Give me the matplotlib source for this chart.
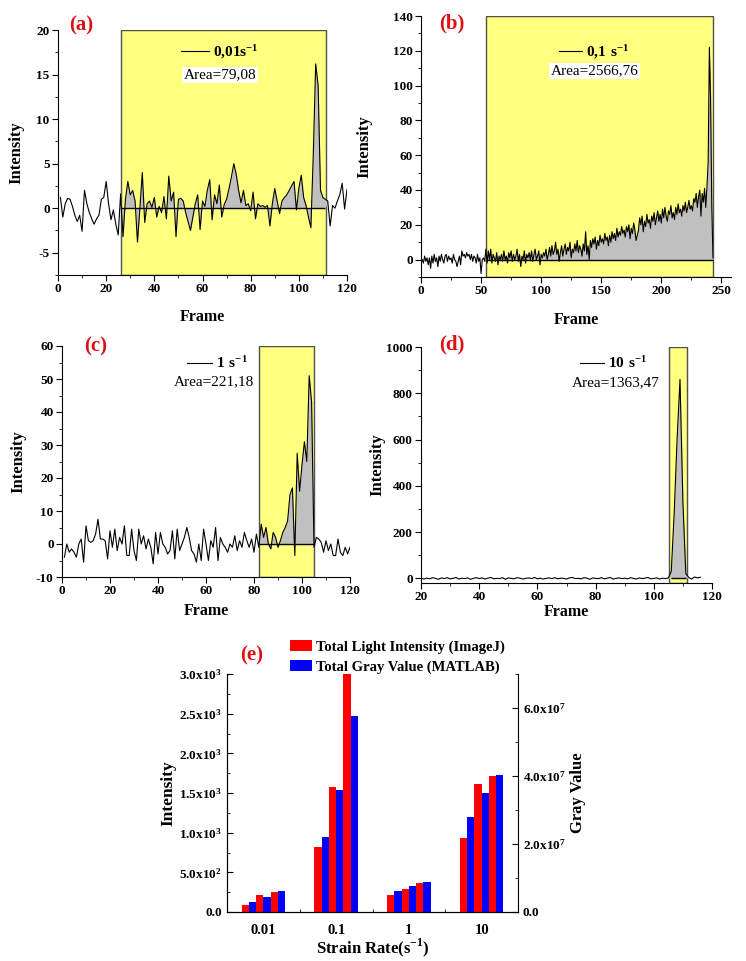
import numpy as np
import matplotlib
matplotlib.use('Agg')
import matplotlib.pyplot as plt
from matplotlib.ticker import MultipleLocator, FixedLocator, FuncFormatter

plt.rcParams['font.family'] = ['Liberation Serif', 'DejaVu Serif']
plt.rcParams['font.weight'] = 'bold'
plt.rcParams['mathtext.fontset'] = 'custom'
plt.rcParams['mathtext.rm'] = 'Liberation Serif'
plt.rcParams['mathtext.bf'] = 'Liberation Serif:bold'
plt.rcParams['axes.unicode_minus'] = False

# (a) 0,01 s-1, frames 1..120
a_vals = [1.2, -1.0, 0.5, 1.1, 1.0, 0.2, -0.8, -1.5, -0.8, -2.6,
          2.0, 0.5, -0.5, -1.2, -1.8, -1.2, -0.8, 1.0, 1.2, 3.0,
          0.5, -1.3, -0.2, -1.8, -3.0, 1.6, -3.2, 1.0, 3.0, 1.5,
          2.0, 0.8, -3.8, 0.0, 4.0, -1.6, 0.5, 0.8, 0.1, 1.2,
          -1.0, 0.2, -0.5, 1.3, -1.2, 3.6, 0.8, 1.8, -3.2, 1.0,
          1.1, 0.8, -0.5, -1.5, -2.5, -1.0, 0.5, 1.5, -2.4, 0.8,
          0.2, 2.0, 3.2, -1.3, 1.5, 0.5, 2.6, -1.0, 0.4, 1.0,
          2.2, 3.5, 5.0, 3.8, 2.0, 0.6, 2.0, 0.3, 0.5, -0.3,
          1.8, -1.2, 0.5, 0.2, 0.3, 0.1, 0.3, -2.0, 0.5, 2.2,
          0.8, -0.6, 0.8, 1.2, 1.5, 2.0, 2.5, 3.0, -0.2, 2.2,
          3.7, 1.2, 0.3, -1.0, -2.2, 6.0, 16.2, 13.8, 2.0, 1.2,
          1.0, 0.8, -2.0, 0.3, 0.0, 0.8, 1.5, 2.8, -0.1, 2.1]
a_span = (26, 111.2)

# (b) 0,1 s-1, frames 1..243
b_vals = [0, -2, 2, -1, 1, -3, 1, -5, 2, -2,
          3, -1, 1, -4, 2, -1, 3, 0, -2, 2,
          3, -1, 2, 0, 1, -2, 3, 0, -1, -4,
          -1, 2, -3, 5, 2, 3, 1, 4, 2, 3,
          0, 3, -1, 2, 1, -2, 3, -1, 1, -8,
          0, 1, -1, 6, -2, 5, 0, 6, -2, 3,
          1, -1, 4, -3, 2, 0, 3, -1, 5, 0,
          2, -2, 4, 1, 5, -1, 3, 0, 2, 6,
          -1, 3, -4, 2, 0, 5, -2, 3, 1, 4,
          0, 5, -1, 3, 6, 0, 2, 5, -3, 3,
          1, 4, 2, 6, 0, 3, 7, 2, 8, 3,
          5, 10, 3, 6, -1, 4, 8, 2, 6, 9,
          3, 7, 5, 10, 1, 6, 4, 9, 5, 11,
          4, 8, 6, 2, 9, 5, 16, 3, 8, 0,
          11, 7, 12, 9, 13, 6, 11, 8, 14, 10,
          12, 9, 15, 11, 13, 8, 14, 10, 16, 12,
          15, 11, 18, 13, 16, 14, 19, 15, 17, 13,
          19, 16, 20, 12, 18, 15, 21, 17, 11, 14,
          17, 24, 20, 25, 16, 22, 19, 26, 21, 23,
          18, 25, 22, 27, 20, 24, 28, 22, 26, 21,
          29, 24, 30, 25, 22, 28, 26, 31, 24, 27,
          23, 30, 26, 32, 27, 29, 25, 31, 28, 33,
          27, 30, 34, 29, 31, 28, 35, 33, 38, 30,
          36, 40, 25, 38, 33, 41, 30, 42, 56, 122,
          93, 31, 1]
b_span = (54, 243)

# (c) 1 s-1, frames 1..120
c_vals = [-4, 0, -2.5, -1.5, -2.5, -4, 0, 1.5, -5.5, 5.5,
          1, 0.5, 1, 3, 7.5, 1.5, 1.5, 1, -4.5, 4,
          -1, 4.5, -2, 2, 0, 5.5, -3.5, -3.5, 4.5, -2,
          -5, 4.5, 0, 2.5, -1.5, 1.5, -1, -6, 3.5, -3,
          3.5, 0, -1, -3, -2, 4, -4.5, 4.5, -2, 0,
          2, 5, 2, -2, -3, -5.5, 0, -5, 4.5, 0,
          -5, 1, -1, 5, -5, 2, 0, -1, -2.5, 0,
          -1, 2.5, -2, 1, -1, 3.5, 1, -1, 1.5, -2.5,
          3, -1, 6, 2, 5, 0, -1.5, 3.5, 2, -1,
          1, 3.5, 5, 7, 15, 17, -3.5, 27.5, 16, 24,
          31, 25, 51, 43, -1, 2, 1.5, 0.5, -2.5, 1,
          -2, 0, -3.5, -3.5, 1.5, -2.5, -3.5, -1, -3, -1]
c_span = (82, 105)

# (d) 10 s-1, frames 20..116
d_vals = [2, -3, 1, -2, 3, 0, -4, 2, -1, 3,
          -2, 0, 4, -3, 1, -1, 2, -4, 0, 3,
          -1, 2, -3, 1, 4, -2, 0, -1, 3, -4,
          2, 0, -2, 3, 1, -3, 0, 2, -1, 4,
          -2, 1, -3, 0, 2, -1, 3, -2, 1, 0,
          -3, 2, 4, -1, 0, -2, 3, 1, -4, 2,
          0, -1, 3, -2, 1, 4, -3, 0, 2, -1,
          1, -2, 3, 0, -3, 2, -1, 1, 4, -2,
          0, 2, -3, 1, -1, 2, 30, 280, 600, 860,
          330, 20, 4, -3, 6, 2, 5]
d_span = (105.3, 111.4)

# (e) totals per strain rate
rates = ['0.01', '0.1', '1', '10']
imagej = [[90, 220, 250], [820, 1580, 3000], [210, 290, 370], [930, 1610, 1720]]
matlab = [[3.0e6, 4.4e6, 6.2e6], [2.2e7, 3.6e7, 5.75e7],
          [6.1e6, 7.7e6, 8.9e6], [2.78e7, 3.5e7, 4.04e7]]

W, H = 746, 961
fig = plt.figure(figsize=(W / 100, H / 100), dpi=100)


def px_axes(left, top, right, bottom):
    return fig.add_axes([left / W, 1 - bottom / H, (right - left) / W, (bottom - top) / H])


def frame_panel(ax, x, y, span, label, legend_xy, area, area_xy, handlelen, xlab_y, ylab_x):
    x = np.asarray(x, dtype=float)
    y = np.asarray(y, dtype=float)
    ax.axvspan(span[0], span[1], facecolor='#ffff80', edgecolor='#505050', lw=1, zorder=0)
    m = (x >= span[0]) & (x <= span[1])
    ax.fill_between(x, y, 0, where=m, interpolate=True, color='#c0c0c0', lw=0, zorder=1)
    ax.hlines(0, x[m][0], x[m][-1], color='k', lw=1, zorder=2)
    ax.plot(x, y, color='k', lw=0.8, label=label, zorder=3)
    ax.legend(loc='center left', bbox_to_anchor=legend_xy, frameon=False, fontsize=11,
              borderpad=0, borderaxespad=0, handlelength=handlelen, handletextpad=0.25)
    ax.text(area_xy[0], area_xy[1], area, transform=ax.transAxes, ha='center', va='center',
            fontsize=11, fontweight='normal',
            bbox=dict(facecolor='white', edgecolor='none', pad=1))
    for s in ['top', 'right']:
        ax.spines[s].set_visible(False)
    ax.tick_params(which='both', direction='out', labelsize=9.5, pad=2)
    ax.tick_params(which='major', length=4)
    ax.tick_params(which='minor', length=2)
    ax.set_xlabel('Frame', fontsize=11.5, fontweight='bold')
    ax.set_ylabel('Intensity', fontsize=12, fontweight='bold')
    ax.xaxis.set_label_coords(0.5, xlab_y)
    ax.yaxis.set_label_coords(ylab_x, 0.5)


# (a)
ax = px_axes(58, 30, 347, 275)
frame_panel(ax, np.arange(1, 121), a_vals, a_span, r'$\mathbf{0{,}01s^{-1}}$',
            (0.425, 0.91), 'Area=79,08', (0.56, 0.816), 1.85, -0.139, -0.118)
ax.set_xlim(0, 120)
ax.set_ylim(-7.5, 20)
ax.xaxis.set_major_locator(MultipleLocator(20))
ax.xaxis.set_minor_locator(MultipleLocator(10))
ax.yaxis.set_major_locator(MultipleLocator(5))
ax.yaxis.set_minor_locator(MultipleLocator(2.5))
ax.text(0.08, 1.02, '(a)', transform=ax.transAxes, color='#dd1111', fontsize=15,
        fontweight='bold', ha='center', va='center')

# (b)
ax = px_axes(421, 16, 731, 277)
frame_panel(ax, np.arange(1, 244), b_vals, b_span, r'$\mathbf{0{,}1\ s^{-1}}$',
            (0.445, 0.862), 'Area=2566,76', (0.56, 0.79), 1.5, -0.134, -0.158)
ax.set_xlim(0, 258)
ax.set_ylim(-10, 140)
ax.xaxis.set_major_locator(MultipleLocator(50))
ax.xaxis.set_minor_locator(MultipleLocator(25))
ax.yaxis.set_major_locator(MultipleLocator(20))
ax.yaxis.set_minor_locator(MultipleLocator(10))
ax.text(0.1, 0.97, '(b)', transform=ax.transAxes, color='#dd1111', fontsize=15,
        fontweight='bold', ha='center', va='center')

# (c)
ax = px_axes(62, 346, 350, 577)
frame_panel(ax, np.arange(1, 121), c_vals, c_span, r'$\mathbf{1\ s^{-1}}$',
            (0.435, 0.926), 'Area=221,18', (0.528, 0.845), 1.6, -0.113, -0.122)
ax.set_xlim(0, 120)
ax.set_ylim(-10, 60)
ax.xaxis.set_major_locator(MultipleLocator(20))
ax.xaxis.set_minor_locator(MultipleLocator(10))
ax.yaxis.set_major_locator(MultipleLocator(10))
ax.yaxis.set_minor_locator(MultipleLocator(5))
ax.text(0.118, 1.0, '(c)', transform=ax.transAxes, color='#dd1111', fontsize=15,
        fontweight='bold', ha='center', va='center')

# (d)
ax = px_axes(421, 347, 712, 583)
frame_panel(ax, np.arange(20, 117), d_vals, d_span, r'$\mathbf{10\ s^{-1}}$',
            (0.545, 0.932), 'Area=1363,47', (0.67, 0.85), 1.6, -0.089, -0.124)
ax.set_xlim(20, 120)
ax.set_ylim(-20, 1000)
ax.xaxis.set_major_locator(MultipleLocator(20))
ax.xaxis.set_minor_locator(MultipleLocator(10))
ax.yaxis.set_major_locator(MultipleLocator(200))
ax.yaxis.set_minor_locator(MultipleLocator(100))
ax.text(0.107, 1.01, '(d)', transform=ax.transAxes, color='#dd1111', fontsize=15,
        fontweight='bold', ha='center', va='center')


# (e) bar chart with two y axes
def sci(v, pos):
    if v <= 0:
        return '0.0'
    e = int(np.floor(np.log10(v)))
    return r'$\mathbf{%.1fx10^{%d}}$' % (v / 10 ** e, e)


ax = px_axes(227, 674, 518, 912)
ax2 = ax.twinx()
w = 0.1
grp = np.arange(len(rates))
for k in range(3):
    ax.bar(grp + (-2.5 + 2 * k) * w, [g[k] for g in imagej], w, color='#ff0000',
           label='Total Light Intensity (ImageJ)' if k == 0 else None)
    ax2.bar(grp + (-1.5 + 2 * k) * w, [g[k] for g in matlab], w, color='#0000ff',
            label='Total Gray Value (MATLAB)' if k == 0 else None)
ax.set_xlim(-0.5, 3.5)
ax.set_ylim(0, 3000)
ax2.set_ylim(0, 7.0e7)
ax.set_xticks(grp)
ax.set_xticklabels(rates)
ax.xaxis.set_minor_locator(FixedLocator([0.5, 1.5, 2.5]))
ax.yaxis.set_major_locator(MultipleLocator(500))
ax.yaxis.set_minor_locator(MultipleLocator(250))
ax.yaxis.set_major_formatter(FuncFormatter(sci))
ax2.yaxis.set_major_locator(MultipleLocator(2e7))
ax2.yaxis.set_minor_locator(MultipleLocator(1e7))
ax2.yaxis.set_major_formatter(FuncFormatter(sci))
for a in (ax, ax2):
    a.spines['top'].set_visible(False)
    a.tick_params(which='both', direction='in', labelsize=9.5)
    a.tick_params(which='major', length=4)
    a.tick_params(which='minor', length=2)
ax.tick_params(axis='x', labelsize=10.5, pad=9)
ax.spines['right'].set_visible(False)
ax.set_xlabel(r'Strain Rate(s$^{\mathbf{-1}}$)', fontsize=12, fontweight='bold', labelpad=-1)
ax.set_ylabel('Intensity', fontsize=12.5, fontweight='bold', labelpad=2)
ax2.set_ylabel('Gray Value', fontsize=12, fontweight='bold', labelpad=3)
h1, l1 = ax.get_legend_handles_labels()
h2, l2 = ax2.get_legend_handles_labels()
ax.legend(h1 + h2, l1 + l2, loc='lower left', bbox_to_anchor=(0.216, 1.0), frameon=False,
          fontsize=10.5, handlelength=1.55, handleheight=0.8, handletextpad=0.27,
          labelspacing=0.45, borderpad=0, borderaxespad=0)
ax.text(0.086, 1.076, '(e)', transform=ax.transAxes, color='#dd1111', fontsize=15,
        fontweight='bold', ha='center', va='center')

fig.savefig('out.png', dpi=100)
